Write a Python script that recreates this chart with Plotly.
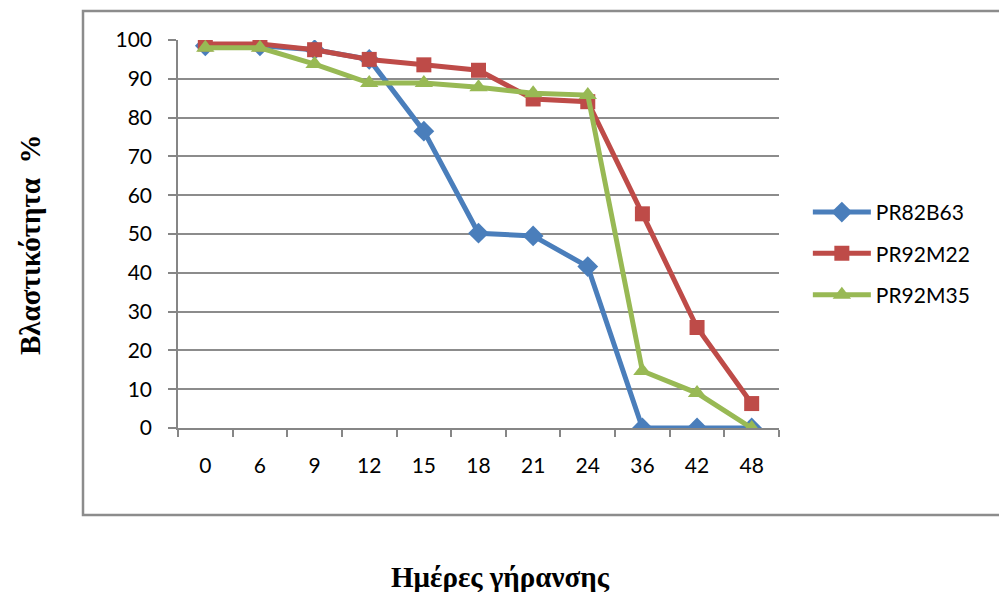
import plotly.graph_objects as go

# Germination (%) over ageing days for three hybrids
days = ["0", "6", "9", "12", "15", "18", "21", "24", "36", "42", "48"]
pr82b63 = [98.5, 98.5, 97.5, 95, 76.5, 50.2, 49.5, 41.6, 0, 0, 0]
pr92m22 = [99, 99, 97.5, 95, 93.6, 92.2, 84.8, 84.1, 55.2, 25.9, 6.3]
pr92m35 = [98, 98, 93.8, 88.9, 88.9, 87.8, 86.3, 85.8, 14.7, 9, 0]

series = [
    ("PR82B63", pr82b63, "#4A7EBB", "diamond", 16),
    ("PR92M22", pr92m22, "#BE4B48", "square", 15),
    ("PR92M35", pr92m35, "#98B954", "triangle-up", 16),
]

fig = go.Figure()
for i, (name, vals, color, symbol, size) in enumerate(series):
    fig.add_trace(go.Scatter(
        x=days, y=vals, name=name, mode="lines+markers",
        legendgroup=f"g{i}",
        line=dict(color=color, width=5),
        marker=dict(symbol=symbol, size=size, color=color),
    ))

tick_font = dict(family="Lato, Carlito, Calibri, sans-serif", size=21, color="#000000")
legend_font = dict(family="Lato, Carlito, Calibri, sans-serif", size=21, color="#000000")
title_font = dict(family="Liberation Serif, Times New Roman, serif", size=29, color="#000000")

L, R, T, B = 178, 779, 40, 428
W, H = 999, 592

fig.update_layout(
    width=W, height=H,
    margin=dict(l=L, r=W - R, t=T, b=H - B, pad=0),
    paper_bgcolor="white", plot_bgcolor="white",
    showlegend=True,
    legend=dict(
        x=1.048, xanchor="left", y=0.45, yanchor="middle",
        font=legend_font, itemwidth=58, traceorder="grouped",
        tracegroupgap=11, bgcolor="rgba(0,0,0,0)",
    ),
    xaxis=dict(
        type="category", tickson="boundaries", showgrid=False,
        showline=True, linecolor="#868686", linewidth=1.5,
        ticks="outside", ticklen=7, tickcolor="#868686", tickwidth=1.5,
        tickfont=tick_font, ticklabelstandoff=18,
        range=[-0.5, len(days) - 0.5],
    ),
    yaxis=dict(
        range=[0, 100], dtick=10, showgrid=True,
        gridcolor="#8C8C8C", gridwidth=1.5,
        showline=True, linecolor="#868686", linewidth=1.5,
        ticks="outside", ticklen=8, tickcolor="#868686", tickwidth=1.5,
        tickfont=tick_font, ticklabelstandoff=12, zeroline=False,
    ),
)

# Outer chart-area frame
pw, ph = R - L, B - T
fig.add_shape(
    type="rect", xref="paper", yref="paper",
    x0=(83 - L) / pw, x1=(1010 - L) / pw,
    y0=(B - 515) / ph, y1=(B - 11) / ph,
    line=dict(color="#8C8C8C", width=2.5), fillcolor="rgba(0,0,0,0)", layer="below",
)

# Axis titles
fig.add_annotation(
    text="<b>Βλαστικότητα  %</b>", textangle=-90, showarrow=False,
    xref="paper", yref="paper",
    x=(30 - L) / pw, y=(B - 245) / ph, xanchor="center", yanchor="middle",
    font=title_font,
)
fig.add_annotation(
    text="<b>Ημέρες γήρανσης</b>", showarrow=False,
    xref="paper", yref="paper",
    x=(500 - L) / pw, y=(B - 577) / ph, xanchor="center", yanchor="middle",
    font=title_font,
)

fig.write_html("out.html")
